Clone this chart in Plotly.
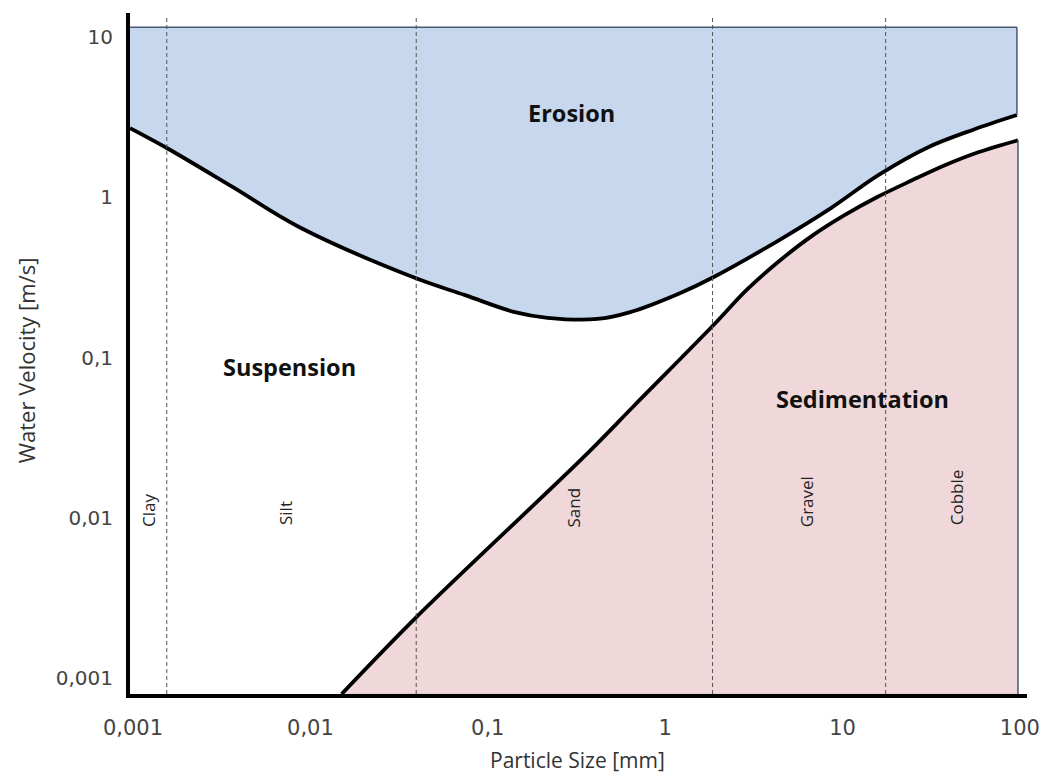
import plotly.graph_objects as go

# ---- data ----
# Erosion threshold curve (particle size mm, velocity m/s)
erosion_x = [0.000962, 0.00155, 0.00364, 0.00863, 0.0391, 0.0745, 0.142, 0.217,
             0.415, 0.635, 1.21, 1.88, 4.40, 8.39, 16.0, 30.0, 55.0, 96.2]
erosion_y = [2.70, 2.03, 1.16, 0.652, 0.313, 0.245, 0.192, 0.177,
             0.174, 0.192, 0.252, 0.318, 0.541, 0.84, 1.38, 2.04, 2.65, 3.26]
erosion_top = 11.5

# Sedimentation (settling) curve
sed_x = [0.0150, 0.0396, 0.355, 0.668, 1.88, 2.88, 4.40,
         6.82, 10.2, 15.6, 24.8, 38.0, 58.2, 97.5]
sed_y = [0.000794, 0.0024, 0.0245, 0.050, 0.160, 0.264, 0.400,
         0.580, 0.770, 1.0, 1.28, 1.59, 1.91, 2.27]

# Grain-size class boundaries (mm) and class labels
boundaries = [0.00155, 0.0395, 1.85, 17.5]
classes = ["Clay", "Silt", "Sand", "Gravel", "Cobble"]

x_ticks = [0.001, 0.01, 0.1, 1, 10, 100]
x_ticktext = ["0,001", "0,01", "0,1", "1", "10", "100"]
y_ticks = [0.001, 0.01, 0.1, 1, 10]
y_ticktext = ["0,001", "0,01", "0,1", "1", "10"]

X_RANGE = [-3.017, 2.04]
Y_RANGE = [-3.1, 1.15]
y_floor = 10 ** Y_RANGE[0]

BLUE = "rgb(198,215,238)"
PINK = "rgb(240,216,218)"
EDGE = "rgb(70,88,115)"
CURVE = dict(color="black", width=3.8, shape="spline", smoothing=1.0)

fig = go.Figure()

# Erosion region: top edge then curve filled to it
fig.add_trace(go.Scatter(x=[erosion_x[0], erosion_x[-1]], y=[erosion_top, erosion_top],
                         mode="lines", line=dict(color=EDGE, width=1.5), hoverinfo="skip"))
fig.add_trace(go.Scatter(x=erosion_x, y=erosion_y, mode="lines", fill="tonexty",
                         fillcolor=BLUE, line=CURVE, hoverinfo="skip"))
fig.add_trace(go.Scatter(x=[erosion_x[-1], erosion_x[-1]], y=[erosion_top, erosion_y[-1]],
                         mode="lines", line=dict(color=EDGE, width=1.5), hoverinfo="skip"))

# Sedimentation region: floor then curve filled to it
fig.add_trace(go.Scatter(x=[sed_x[0], sed_x[-1]], y=[y_floor, y_floor], mode="lines",
                         line=dict(color="black", width=0.1), hoverinfo="skip"))
fig.add_trace(go.Scatter(x=sed_x, y=sed_y, mode="lines", fill="tonexty",
                         fillcolor=PINK, line=CURVE, hoverinfo="skip"))
fig.add_trace(go.Scatter(x=[sed_x[-1], sed_x[-1]], y=[sed_y[-1], y_floor],
                         mode="lines", line=dict(color=EDGE, width=1.5), hoverinfo="skip"))

# Dashed class boundaries
for b in boundaries:
    fig.add_shape(type="line", xref="x", yref="paper", x0=b, x1=b, y0=0, y1=0.994,
                  line=dict(color="#555", width=1, dash="4px,3px"), layer="above")

# Class labels (rotated)
class_pos = [(-2.916, -1.952), (-2.137, -1.970), (-0.517, -1.933), (0.795, -1.902), (1.641, -1.871)]
for name, (lx, ly) in zip(classes, class_pos):
    fig.add_annotation(x=lx, y=ly, xref="x", yref="y", text=name, showarrow=False,
                       textangle=-90, font=dict(family="Open Sans", size=17, color="#222"))

# Region labels
for name, lx, ly in [("Erosion", -0.528, 0.526), ("Suspension", -2.120, -1.059),
                     ("Sedimentation", 1.114, -1.259)]:
    fig.add_annotation(x=lx, y=ly, xref="x", yref="y", text="<b>" + name + "</b>",
                       showarrow=False, font=dict(family="Open Sans", size=23.5, color="#111"))

# Axis titles
fig.add_annotation(x=0.499, y=-0.097, xref="paper", yref="paper", text="Particle Size [mm]",
                   xanchor="center", yanchor="middle", showarrow=False,
                   font=dict(family="Open Sans", size=21, color="#333"))
fig.add_annotation(x=-0.116, y=0.49, xref="paper", yref="paper", text="Water Velocity [m/s]",
                   xanchor="center", yanchor="middle", showarrow=False, textangle=-90,
                   font=dict(family="Open Sans", size=22, color="#333"))

fig.update_xaxes(type="log", range=X_RANGE, tickvals=x_ticks, ticktext=x_ticktext,
                 showline=True, linecolor="black", linewidth=4, ticks="", showgrid=False,
                 zeroline=False, ticklabelstandoff=12,
                 tickfont=dict(family="DejaVu Sans", size=21, color="#444"))
fig.update_yaxes(type="log", range=Y_RANGE, tickvals=y_ticks, ticktext=y_ticktext,
                 showline=True, linecolor="black", linewidth=4, ticks="", showgrid=False,
                 zeroline=False, ticklabelstandoff=9,
                 tickfont=dict(family="DejaVu Sans", size=20, color="#444"))

fig.update_layout(width=1052, height=777, margin=dict(l=130, r=20, t=13, b=83),
                  paper_bgcolor="white", plot_bgcolor="white", showlegend=False)

fig.write_html("out.html")
